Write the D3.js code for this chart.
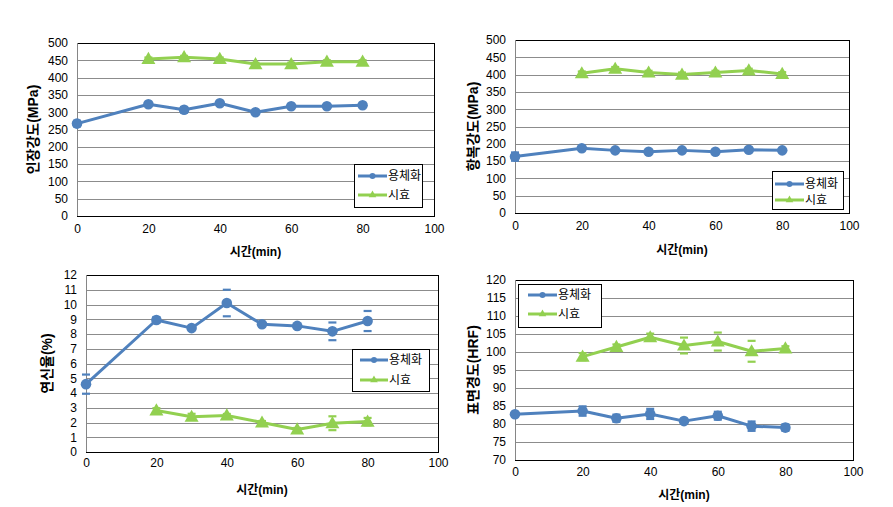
<!DOCTYPE html>
<html>
<head>
<meta charset="utf-8">
<script src="https://cdn.jsdelivr.net/npm/d3@7/dist/d3.min.js"></script>
<style>
  html, body { margin: 0; padding: 0; background: #fff; }
  svg { display: block; font-family: "Liberation Sans", Arial, "Noto Sans CJK KR", sans-serif; }
</style>
</head>
<body>
<svg id="chart" width="893" height="507"></svg>
<script>
// ---------- data ----------
const seriesNames = ["용체화", "시효"];
const timesSol = [0, 20, 30, 40, 50, 60, 70, 80];
const timesAge = [20, 30, 40, 50, 60, 70, 80];
const xTicks = [0, 20, 40, 60, 80, 100];
const xTitle = "시간(min)";

// tensile strength (MPa)
const tensileSol    = [267, 323, 307, 326, 300, 317, 317, 320];
const tensileSolErr = [8, 3, 8, 3, 3, 3, 3, 3];
const tensileAge    = [454, 459, 454, 439, 439, 446, 446];
const tensileAgeErr = [4, 4, 4, 4, 4, 4, 4];
const tensileTicks  = [0, 50, 100, 150, 200, 250, 300, 350, 400, 450, 500];

// yield strength (MPa)
const yieldSol    = [163, 187, 181, 177, 181, 177, 183, 181];
const yieldSolErr = [12, 3, 3, 3, 3, 3, 3, 3];
const yieldAge    = [404, 417, 406, 400, 406, 412, 402];
const yieldAgeErr = [5, 5, 5, 6, 5, 5, 5];
const yieldTicks  = [0, 50, 100, 150, 200, 250, 300, 350, 400, 450, 500];

// elongation (%)
const elongSol    = [4.6, 8.95, 8.4, 10.1, 8.66, 8.55, 8.18, 8.88];
const elongSolErr = [0.65, 0.2, 0.1, 0.9, 0.1, 0.1, 0.6, 0.68];
const elongAge    = [2.82, 2.39, 2.48, 2.0, 1.53, 1.95, 2.06];
const elongAgeErr = [0.15, 0.2, 0.1, 0.1, 0.1, 0.47, 0.25];
const elongTicks  = [0, 1, 2, 3, 4, 5, 6, 7, 8, 9, 10, 11, 12];

// surface hardness (HRF)
const hardSol    = [82.7, 83.6, 81.6, 82.8, 80.8, 82.3, 79.4, 79.0];
const hardSolErr = [0.5, 1.3, 1.0, 1.4, 0.5, 1.1, 1.3, 0.9];
const hardAge    = [98.7, 101.4, 104.1, 101.8, 102.9, 100.2, 101.0];
const hardAgeErr = [1.0, 0.7, 1.0, 2.2, 2.5, 2.9, 0.6];
const hardTicks  = [70, 75, 80, 85, 90, 95, 100, 105, 110, 115, 120];

// ---------- panel layout ----------
const panels = [
  { title: "인장강도(MPa)", ticks: tensileTicks, sol: tensileSol, solErr: tensileSolErr, age: tensileAge, ageErr: tensileAgeErr,
    box: { x0: 77, x1: 434, y0: 43, y1: 216 }, yTitleX: 33, xLabGap: 17, xTitleGap: 36,
    legend: { x: 354, y: 164, w: 68, h: 43, r1: 12, r2: 31, lx: 4, lw: 29 } },
  { title: "항복강도(MPa)", ticks: yieldTicks, sol: yieldSol, solErr: yieldSolErr, age: yieldAge, ageErr: yieldAgeErr,
    box: { x0: 515, x1: 849, y0: 40, y1: 213 }, yTitleX: 473, xLabGap: 17, xTitleGap: 37,
    legend: { x: 772, y: 171, w: 71, h: 38, r1: 13, r2: 29, lx: 3, lw: 29 } },
  { title: "연신율(%)", ticks: elongTicks, sol: elongSol, solErr: elongSolErr, age: elongAge, ageErr: elongAgeErr,
    box: { x0: 86, x1: 438, y0: 275, y1: 452 }, yTitleX: 47, xLabGap: 15, xTitleGap: 38,
    legend: { x: 352, y: 349, w: 77, h: 42, r1: 11, r2: 31, lx: 8, lw: 28 } },
  { title: "표면경도(HRF)", ticks: hardTicks, sol: hardSol, solErr: hardSolErr, age: hardAge, ageErr: hardAgeErr,
    box: { x0: 515, x1: 853, y0: 280, y1: 460 }, yTitleX: 473, xLabGap: 16, xTitleGap: 35,
    legend: { x: 518, y: 284, w: 83, h: 43, r1: 11, r2: 30, lx: 10, lw: 29 } }
];

const blue = "#4F81BD";
const green = "#92D050";
const svg = d3.select("#chart");
const tri = d3.symbol().type(d3.symbolTriangle);

panels.forEach(p => {
  const b = p.box;
  const x = d3.scaleLinear().domain([0, 100]).range([b.x0, b.x1]);
  const y = d3.scaleLinear().domain([p.ticks[0], p.ticks[p.ticks.length - 1]]).range([b.y1, b.y0]);
  const g = svg.append("g");

  // gridlines
  g.append("g").selectAll("line").data(p.ticks).join("line")
    .attr("x1", b.x0).attr("x2", b.x1)
    .attr("y1", d => Math.round(y(d)) + 0.5).attr("y2", d => Math.round(y(d)) + 0.5)
    .attr("stroke", "#8c8c8c").attr("stroke-width", 1);

  // plot border
  g.append("rect").attr("x", b.x0 + 0.5).attr("y", Math.round(b.y0) + 0.5)
    .attr("width", b.x1 - b.x0).attr("height", Math.round(b.y1) - Math.round(b.y0))
    .attr("fill", "none").attr("stroke", "#000").attr("stroke-width", 1);
  g.append("line").attr("x1", b.x0 + 0.5).attr("x2", b.x0 + 0.5).attr("y1", b.y0).attr("y2", b.y1)
    .attr("stroke", "#868686");

  // y tick labels
  const yAxis = d3.axisLeft(y).tickValues(p.ticks).tickSize(0).tickPadding(9);
  const ya = g.append("g").attr("transform", `translate(${b.x0},0)`).call(yAxis);
  ya.select(".domain").remove();
  ya.selectAll("text").attr("font-size", 12).attr("fill", "#000");

  // x tick labels
  const xAxis = d3.axisBottom(x).tickValues(xTicks).tickSize(0).tickPadding(p.xLabGap - 9);
  const xa = g.append("g").attr("transform", `translate(0,${b.y1})`).call(xAxis);
  xa.select(".domain").remove();
  xa.selectAll("text").attr("font-size", 12).attr("fill", "#000");

  // titles
  g.append("text").attr("x", (b.x0 + b.x1) / 2).attr("y", b.y1 + p.xTitleGap)
    .attr("text-anchor", "middle").attr("dominant-baseline", "central")
    .attr("font-size", 12).attr("font-weight", "bold").text(xTitle);
  g.append("text")
    .attr("transform", `translate(${p.yTitleX},${(b.y0 + b.y1) / 2}) rotate(-90)`)
    .attr("text-anchor", "middle").attr("dominant-baseline", "central")
    .attr("font-size", 14).attr("font-weight", "bold").text(p.title);

  const line = d3.line().x(d => x(d[0])).y(d => y(d[1]));
  const sets = [
    { times: timesSol, vals: p.sol, err: p.solErr, color: blue, shape: "circle" },
    { times: timesAge, vals: p.age, err: p.ageErr, color: green, shape: "tri" }
  ];

  sets.forEach(s => {
    const pts = s.times.map((t, i) => [t, s.vals[i], s.err[i]]);
    // error bar caps
    const caps = [];
    pts.forEach(d => { caps.push([d[0], d[1] + d[2]]); caps.push([d[0], d[1] - d[2]]); });
    g.append("g").selectAll("line").data(caps).join("line")
      .attr("x1", d => x(d[0]) - 4).attr("x2", d => x(d[0]) + 4)
      .attr("y1", d => y(d[1])).attr("y2", d => y(d[1]))
      .attr("stroke", s.color).attr("stroke-width", 2.2);
    g.append("path").datum(pts).attr("d", line)
      .attr("fill", "none").attr("stroke", s.color).attr("stroke-width", 3).attr("stroke-linejoin", "round");
    if (s.shape === "circle") {
      g.append("g").selectAll("circle").data(pts).join("circle")
        .attr("cx", d => x(d[0])).attr("cy", d => y(d[1])).attr("r", 5.3)
        .attr("fill", s.color);
    } else {
      g.append("g").selectAll("path").data(pts).join("path")
        .attr("d", tri.size(85)())
        .attr("transform", d => `translate(${x(d[0])},${y(d[1]) + 1})`)
        .attr("fill", s.color);
    }
  });

  // legend
  const L = p.legend;
  const lg = g.append("g");
  lg.append("rect").attr("x", L.x + 0.5).attr("y", L.y + 0.5).attr("width", L.w).attr("height", L.h)
    .attr("fill", "#fff").attr("stroke", "#000");
  [[seriesNames[0], blue, "circle", L.r1], [seriesNames[1], green, "tri", L.r2]].forEach(e => {
    const ly = L.y + e[3];
    lg.append("line").attr("x1", L.x + L.lx).attr("x2", L.x + L.lx + L.lw)
      .attr("y1", ly).attr("y2", ly).attr("stroke", e[1]).attr("stroke-width", 3);
    if (e[2] === "circle") {
      lg.append("circle").attr("cx", L.x + L.lx + L.lw / 2).attr("cy", ly).attr("r", 3).attr("fill", e[1]);
    } else {
      lg.append("path").attr("d", d3.symbol().type(d3.symbolTriangle).size(25)())
        .attr("transform", `translate(${L.x + L.lx + L.lw / 2},${ly})`).attr("fill", e[1]);
    }
    lg.append("text").attr("x", L.x + L.lx + L.lw + 1).attr("y", ly)
      .attr("dominant-baseline", "central").attr("font-size", 12).text(e[0]);
  });
});
</script>
</body>
</html>
